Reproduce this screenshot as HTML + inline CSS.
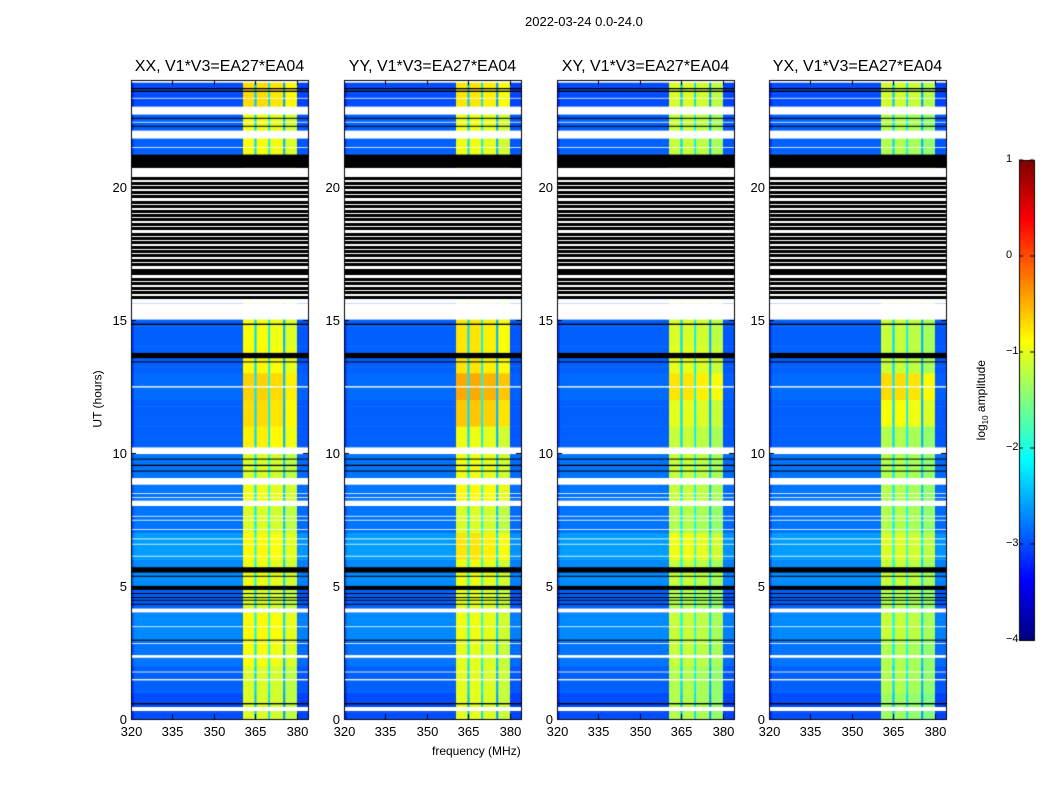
<!DOCTYPE html>
<html><head><meta charset="utf-8">
<style>
body{margin:0;background:#fff;font-family:"Liberation Sans",sans-serif;}
#wrap{position:relative;width:1050px;height:800px;overflow:hidden;background:#fff;}
canvas{position:absolute;left:0;top:0;}
.t{position:absolute;white-space:nowrap;color:#000;}
</style></head>
<body>
<div id="wrap">
<canvas id="cv" width="1050" height="800"></canvas>
<div class="t" style="left:525px;top:14px;font-size:13px;">2022-03-24 0.0-24.0</div>
<div class="t" style="left:432px;top:744px;font-size:12px;">frequency (MHz)</div>
<div class="t" style="left:60px;top:392px;font-size:12px;transform:rotate(-90deg);transform-origin:center;width:75px;text-align:center;">UT (hours)</div>
<div class="t" style="left:932px;top:392px;font-size:12px;transform:rotate(-90deg);width:100px;text-align:center;">log<sub style="font-size:8px">10</sub> amplitude</div>
<div id="labels"></div>
</div>
<script>
// ---- data ----
const panelTitles = ["XX, V1*V3=EA27*EA04","YY, V1*V3=EA27*EA04","XY, V1*V3=EA27*EA04","YX, V1*V3=EA27*EA04"];
const xTicks = [320,335,350,365,380];
const yTicks = [0,5,10,15,20];
const cbTicks = [1,0,-1,-2,-3,-4];
const freqEdges = [320,321,360.5,364.6,365.4,369.6,370.3,375.0,375.8,380.0,384];
const freqVals  = [-3.1,-2.9,-1.05,-2.3,-1.05,-2.2,-1.1,-2.5,-1.2,-2.95];
const freqIsBand= [0,0,1,0,1,0,1,0,1,0];
const bandOffXX = [0,0,0.15,0.2,0,0.1,0.2,0,0.1,0,0.25,0.35,0.4,0.2,0.15,0,0,0,0,0,0,0.15,0.1,0.35];
const bandOffYY = [0.05,0.05,0.05,0.1,0.05,0.1,0.3,0,0.2,0.1,0.1,0.45,0.6,0.3,0.3,0,0,0,0,0,0,0.1,0.1,0.3];
const bandOffXY = [-0.2,-0.2,-0.1,-0.1,-0.2,-0.1,0.1,-0.2,-0.1,-0.1,-0.1,0.05,0.3,0.05,0,0,0,0,0,0,0,-0.1,-0.1,0];
const bandOffYX = [-0.3,-0.2,-0.2,-0.1,-0.2,-0.1,0,-0.2,-0.2,-0.2,-0.2,0.15,0.35,-0.1,-0.1,0,0,0,0,0,0,-0.2,-0.2,-0.05];
const bgOff     = [-0.1,0,0.1,0.2,0,0.2,0.3,0.1,0.1,0.1,0,0,0.05,0,0,0,0,0,0,0,0,0,0,-0.1];
const whiteIntervals = [[23.9,24],[22.7,23.0],[21.8,22.1],[20.35,20.7],[15.0,15.6],[15.6,20.35],[9.95,10.2],[8.8,9.05],[8.0,8.2],[4.0,4.15],[2.3,2.4],[0.3,0.45],
 [23.3,23.33],[22.4,22.43],[21.45,21.48],[12.45,12.5],[8.45,8.48],[8.3,8.33],[7.6,7.63],[7.45,7.48],[7.1,7.13],[6.75,6.78],[6.55,6.58],[6.1,6.13],[3.45,3.48],[2.82,2.85],[1.75,1.78],[1.45,1.5]];
const blackIntervals = [[20.7,21.2],[14.8,14.85],[13.55,13.75],[13.4,13.43],[9.75,9.78],[9.5,9.55],[9.3,9.33],[5.5,5.7],[5.35,5.38],[4.85,5.0],[4.7,4.73],[4.55,4.58],[4.45,4.48],[4.3,4.33],[2.95,2.98],[0.55,0.6],[23.55,23.6],[23.65,23.7],[22.55,22.58],[22.25,22.28]];
const stripeStarts = [20.25,20.05,19.9,19.7,19.55,19.35,19.2,19.0,18.85,18.7,18.5,18.35,18.15,18.0,17.85,17.65,17.5,17.35,17.15,17.0,16.8,16.65,16.45,16.3,16.1,15.95,15.75];
const stripeWidth = 0.12;
const bandOffs = [bandOffXX,bandOffYY,bandOffXY,bandOffYX];

// ---- layout ----
const panelLefts=[131,344,557,769], PW=177, PT=80, PB=719;
const fMin=320,fMax=384,tMin=0,tMax=24,vMin=-4,vMax=1;
const cv=document.getElementById('cv'), ctx=cv.getContext('2d');
function xs(p,f){return panelLefts[p]+(f-fMin)/(fMax-fMin)*PW;}
function ys(t){return PB-(t-tMin)/(tMax-tMin)*(PB-PT);}
function cl(v){return Math.max(0,Math.min(1,v));}
function jet(v){const x=cl((v-vMin)/(vMax-vMin));
 return `rgb(${Math.round(255*cl(1.5-Math.abs(4*x-3)))},${Math.round(255*cl(1.5-Math.abs(4*x-2)))},${Math.round(255*cl(1.5-Math.abs(4*x-1)))})`;}
const labels=document.getElementById('labels');
function addLabel(txt,x,y,size,name,align){
 const d=document.createElement('div');d.className='t';d.textContent=txt;
 d.style.fontSize=size+'px';d.style.top=y+'px';
 if(align==='r'){d.style.right=(1050-x)+'px';}else if(align==='c'){d.style.left=x+'px';d.style.transform='translateX(-50%)';}else d.style.left=x+'px';
 
 
 labels.appendChild(d);}

const dt=0.25;
for(let p=0;p<4;p++){
 for(let t=0;t<24;t+=dt){
  const h=Math.floor(t);
  const y0=ys(t+dt), y1=ys(t);
  for(let j=0;j<freqVals.length;j++){
   const v=freqVals[j]+(freqIsBand[j]?bandOffs[p][h]:bgOff[h]);
   ctx.fillStyle=jet(v);
   const x0=xs(p,freqEdges[j]), x1=xs(p,freqEdges[j+1]);
   ctx.fillRect(x0,y0,x1-x0+0.5,y1-y0+0.5);
  }
 }
 const L=panelLefts[p];
 ctx.fillStyle='#fff';
 whiteIntervals.forEach(iv=>{ctx.fillRect(L,ys(iv[1]),PW,ys(iv[0])-ys(iv[1]));});
 ctx.fillStyle='#000';
 blackIntervals.forEach(iv=>{ctx.fillRect(L,ys(iv[1]),PW,Math.max(1,ys(iv[0])-ys(iv[1])));});
 stripeStarts.forEach(s=>{ctx.fillRect(L,Math.round(ys(s+stripeWidth)),PW,Math.round(ys(s)-ys(s+stripeWidth)));});
 ctx.strokeStyle='#000';ctx.lineWidth=1;
 ctx.strokeRect(L+0.5,PT+0.5,PW,PB-PT);
 ctx.beginPath();
 xTicks.forEach(f=>{const x=Math.round(xs(p,f))+0.5;ctx.moveTo(x,PB);ctx.lineTo(x,PB-5);ctx.moveTo(x,PT);ctx.lineTo(x,PT+5);
   addLabel(String(f),x,724,13,'x-tick-label','c');});
 yTicks.forEach(t=>{const y=Math.round(ys(t))+0.5;ctx.moveTo(L,y);ctx.lineTo(L+5,y);ctx.moveTo(L+PW,y);ctx.lineTo(L+PW-5,y);
   addLabel(String(t),L-4,y-8,13,'y-tick-label','r');});
 ctx.stroke();
 addLabel(panelTitles[p],L+PW/2,58,16,'panel-title','c');
}
// colorbar
const cbX=1019,cbW=15,cbT=160,cbB=640;
for(let y=cbT;y<cbB;y++){const v=vMax-(y-cbT)/(cbB-cbT)*(vMax-vMin);ctx.fillStyle=jet(v);ctx.fillRect(cbX,y,cbW,1);}
ctx.strokeStyle='#000';ctx.strokeRect(cbX+0.5,cbT+0.5,cbW,cbB-cbT);
cbTicks.forEach(v=>{const y=cbT+(vMax-v)/(vMax-vMin)*(cbB-cbT);
 ctx.beginPath();ctx.moveTo(cbX,y);ctx.lineTo(cbX+4,y);ctx.moveTo(cbX+cbW,y);ctx.lineTo(cbX+cbW-4,y);ctx.stroke();
 addLabel(v<0?'\u2212'+(-v):String(v),1006,y-7,11,'colorbar-tick-label','l');});
</script>
</body></html>
